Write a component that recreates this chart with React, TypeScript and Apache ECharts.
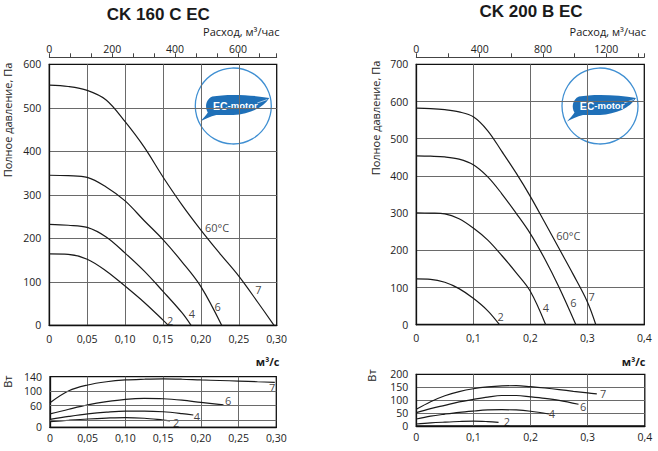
import React, { useEffect, useRef } from "react";
import * as echarts from "echarts";

// ---------- DATA ----------
const X_LABELS_L = ["0", "0,05", "0,10", "0,15", "0,20", "0,25", "0,30"];
const X_LABELS_R = ["0", "0,1", "0,2", "0,3", "0,4"];
const FLOW_LABELS_L = ["0", "200", "400", "600"];
const FLOW_LABELS_R = ["0", "400", "800", "1200"];
const W160_TICKS = [0, 20, 60, 100, 140];
const W160_GRID = [20, 60, 100];

// CK 160 C EC — pressure, Pa vs m3/s
const P160_7 = [[0, 552], [0.025, 549], [0.05, 540], [0.075, 518], [0.1, 468], [0.125, 410], [0.15, 341], [0.175, 277], [0.2, 219], [0.225, 165], [0.25, 113], [0.275, 53], [0.2965, 0]];
const P160_6 = [[0, 345], [0.025, 344], [0.05, 340], [0.075, 318], [0.1, 286], [0.125, 241], [0.15, 197], [0.175, 146], [0.2, 89], [0.2274, 0]];
const P160_4 = [[0, 232], [0.025, 230], [0.05, 225], [0.075, 203], [0.1, 166], [0.125, 125], [0.15, 78], [0.175, 29], [0.187, 0]];
const P160_2 = [[0, 164], [0.025, 163], [0.05, 152], [0.075, 125], [0.1, 90], [0.125, 53], [0.15, 12], [0.157, 0]];
// CK 160 C EC — power, W
const W160_7 = [[0, 68], [0.025, 101], [0.05, 117], [0.075, 126], [0.1, 131], [0.125, 133], [0.15, 134], [0.175, 133], [0.2, 131], [0.225, 129.5], [0.25, 128], [0.275, 126], [0.298, 124.5]];
const W160_6 = [[0, 37], [0.025, 50], [0.05, 62], [0.075, 71], [0.1, 77.5], [0.125, 80], [0.15, 79], [0.175, 75], [0.2, 69], [0.23, 62]];
const W160_4 = [[0, 22], [0.025, 30], [0.05, 37], [0.075, 42], [0.1, 45], [0.125, 45], [0.15, 43], [0.175, 38], [0.19, 34]];
const W160_2 = [[0, 15.5], [0.025, 19.5], [0.05, 23], [0.075, 25.5], [0.1, 27], [0.125, 25], [0.15, 20], [0.159, 18]];

// CK 200 B EC — pressure
const P200_7 = [[0, 582], [0.025, 581], [0.05, 578], [0.075, 572], [0.1, 559], [0.125, 522], [0.15, 466], [0.175, 408], [0.2, 345], [0.225, 276], [0.25, 206], [0.275, 136], [0.3, 62], [0.315, 0]];
const P200_6 = [[0, 454], [0.025, 453], [0.05, 451], [0.075, 445], [0.1, 430], [0.125, 398], [0.15, 352], [0.175, 300], [0.2, 245], [0.225, 178], [0.25, 102], [0.28, 0]];
const P200_4 = [[0, 301], [0.025, 300], [0.05, 298], [0.075, 285], [0.1, 260], [0.125, 228], [0.15, 186], [0.175, 140], [0.2, 90], [0.227, 0]];
const P200_2 = [[0, 123], [0.025, 122], [0.05, 114], [0.075, 97], [0.1, 71], [0.125, 38], [0.146, 0]];
// CK 200 B EC — power
const W200_7 = [[0, 64.5], [0.025, 94], [0.05, 117], [0.075, 133], [0.1, 144], [0.125, 151], [0.15, 155], [0.175, 156], [0.2, 152], [0.225, 147], [0.25, 141], [0.275, 134], [0.3, 128], [0.316, 124]];
const W200_6 = [[0, 51.6], [0.025, 67], [0.05, 80], [0.075, 93], [0.1, 103], [0.125, 112], [0.15, 118], [0.175, 118], [0.2, 113], [0.225, 107], [0.25, 99], [0.284, 84]];
const W200_4 = [[0, 27], [0.025, 38], [0.05, 46], [0.075, 53], [0.1, 58], [0.125, 62], [0.15, 63], [0.175, 62], [0.2, 57], [0.232, 46.5]];
const W200_2 = [[0, 7.7], [0.025, 12], [0.05, 15], [0.075, 17.5], [0.1, 19], [0.125, 17], [0.144, 14]];

// curve labels [text, x, y]
const P160_LABELS = [["7", 0.2757, 83], ["6", 0.2222, 43], ["4", 0.188, 26], ["2", 0.1593, 12], ["60°C", 0.2214, 224]];
const W160_LABELS = [["7", 0.2944, 109], ["6", 0.236, 74], ["4", 0.1948, 31], ["2", 0.1673, 12.7]];
const P200_LABELS = [["7", 0.3077, 75], ["6", 0.2754, 59], ["4", 0.2275, 47], ["2", 0.148, 21.5], ["60°C", 0.2667, 239]];
const W200_LABELS = [["7", 0.327, 124], ["6", 0.292, 75], ["4", 0.2375, 49], ["2", 0.1586, 19]];

// ---------- STYLE ----------
const FONT = "'Open Sans', 'Noto Sans', sans-serif";
const GRID_C = "#6a6a6a";
const FRAME_C = "#111";
const CURVE_C = "#1a1a1a";
const LEAF_PATH =
  "M -21 -9.5 C -8 -12 18 -11.5 36 -8 C 30 2 16 8 0 9 L -17 9 C -23 10.5 -29 13 -33 15.5 C -30 12 -27 9 -25.5 6.5 C -28.5 2 -28 -6.5 -21 -9.5 Z";

let registered = false;
function ensureShape() {
  if (registered) return;
  echarts.graphic.registerShape("logo", echarts.graphic.extendPath(LEAF_PATH, {}));
  registered = true;
}

const axisLabelStyle = { color: "#222", fontFamily: FONT, fontSize: 10.5 };

function bottomX(gridIndex: number, max: number, interval: number, labels: string[], margin: number) {
  return {
    type: "value",
    gridIndex,
    position: "bottom",
    min: 0,
    max,
    interval,
    axisLine: { show: true, lineStyle: { color: FRAME_C, width: 1.3 } },
    axisTick: { show: false },
    axisLabel: {
      ...axisLabelStyle,
      margin,
      showMinLabel: true,
      showMaxLabel: true,
      formatter: (v: number) => labels[Math.round(v / interval)] ?? "",
    },
    splitLine: { show: true, showMinLine: false, showMaxLine: false, lineStyle: { color: GRID_C, width: 1 } },
  };
}

function topX(gridIndex: number, max: number, interval: number, split: number, labels: string[]) {
  return {
    type: "value",
    gridIndex,
    position: "top",
    offset: 7,
    min: 0,
    max,
    interval,
    axisLine: { show: true, lineStyle: { color: "#444", width: 1 } },
    axisTick: { show: true, length: 4, lineStyle: { color: "#444" } },
    minorTick: { show: true, splitNumber: split, length: 4, lineStyle: { color: "#444" } },
    axisLabel: {
      ...axisLabelStyle,
      margin: 3,
      showMinLabel: true,
      formatter: (v: number) => labels[Math.round(v / interval)] ?? "",
    },
    splitLine: { show: false },
  };
}

function leftY(gridIndex: number, max: number, interval: number, grid: boolean, ticks?: number[]) {
  return {
    type: "value",
    gridIndex,
    min: 0,
    max,
    interval,
    axisLine: { show: true, lineStyle: { color: FRAME_C, width: 1.3 } },
    axisTick: { show: false },
    axisLabel: {
      ...axisLabelStyle,
      margin: 8,
      showMinLabel: true,
      showMaxLabel: true,
      hideOverlap: false,
      formatter: (v: number) => (ticks ? (ticks.includes(v) ? String(v) : "") : String(v)),
    },
    splitLine: { show: grid, showMinLine: false, showMaxLine: false, lineStyle: { color: GRID_C, width: 1 } },
  };
}

function curve(data: number[][], xi: number, yi: number) {
  return {
    type: "line",
    xAxisIndex: xi,
    yAxisIndex: yi,
    data,
    symbol: "none",
    showSymbol: false,
    smooth: 0.35,
    lineStyle: { color: CURVE_C, width: 1.2 },
    silent: true,
    z: 3,
  };
}

function labels(items: (string | number)[][], xi: number, yi: number) {
  return {
    type: "scatter",
    xAxisIndex: xi,
    yAxisIndex: yi,
    symbolSize: 0,
    silent: true,
    z: 4,
    data: items.map((it) => ({ name: it[0], value: [it[1], it[2]] })),
    label: {
      show: true,
      position: "inside",
      formatter: (p: any) => p.name,
      color: "#111",
      fontFamily: FONT,
      fontSize: 11,
    },
  };
}

function logo(cx: number, cy: number) {
  return {
    type: "group",
    x: cx,
    y: cy,
    z: 100,
    children: [
      { type: "circle", shape: { cx: 0, cy: 0, r: 38 }, style: { fill: "#fff", stroke: "#3f8fd2", lineWidth: 1.3 } },
      { type: "logo", x: 0, y: 0, scaleX: 1, scaleY: 1, style: { fill: "#1f70b8" } },
      { type: "line", shape: { x1: 24, y1: -3, x2: 34, y2: -6.5 }, style: { stroke: "#cfe3f5", lineWidth: 0.8 } },
      {
        type: "text",
        x: 2,
        y: -0.5,
        style: {
          text: "{a|EC}{b|-motor}",
          textAlign: "center",
          textVerticalAlign: "middle",
          fill: "#fff",
          rich: {
            a: { fontFamily: "'Liberation Sans', sans-serif", fontWeight: "bold", fontSize: 10.5, fill: "#fff" },
            b: { fontFamily: "'Liberation Sans', sans-serif", fontWeight: "bold", fontSize: 9.5, fill: "#fff" },
          },
        },
      },
    ],
  };
}

function txt(text: string, x: number, y: number, opts: any = {}) {
  return {
    type: "text",
    x,
    y,
    rotation: opts.rotation || 0,
    z: 50,
    style: {
      text,
      textAlign: opts.align || "center",
      textVerticalAlign: "middle",
      fill: "#1a1a1a",
      fontFamily: opts.font || FONT,
      fontSize: opts.size || 11,
      fontWeight: opts.weight || "normal",
    },
  };
}

export default function App() {
  const ref = useRef<HTMLDivElement>(null);
  useEffect(() => {
    ensureShape();
    const chart = echarts.init(ref.current!, null, { renderer: "svg" });
    const gridBase = { show: true, borderColor: FRAME_C, borderWidth: 1.3, backgroundColor: "transparent", containLabel: false, outerBoundsMode: "none" };
    const option: any = {
      animation: false,
      backgroundColor: "#fff",
      grid: [
        { ...gridBase, left: 49.3, top: 64.3, width: 227.4, height: 261 },
        { ...gridBase, left: 50, top: 376.7, width: 226.3, height: 50.6 },
        { ...gridBase, left: 416.3, top: 64.3, width: 228, height: 260.4 },
        { ...gridBase, left: 416.3, top: 374.3, width: 228.5, height: 51.7 },
      ],
      xAxis: [
        bottomX(0, 0.3, 0.05, X_LABELS_L, 8),
        topX(0, 723, 200, 3, FLOW_LABELS_L),
        bottomX(1, 0.3, 0.05, X_LABELS_L, 5),
        bottomX(2, 0.4, 0.1, X_LABELS_R, 8),
        topX(2, 1440, 400, 2, FLOW_LABELS_R),
        bottomX(3, 0.4, 0.1, X_LABELS_R, 5),
      ],
      yAxis: [
        leftY(0, 600, 100, true),
        leftY(1, 140, 20, false, W160_TICKS),
        leftY(2, 700, 100, true),
        leftY(3, 200, 50, true),
      ],
      series: [
        curve(P160_7, 0, 0),
        curve(P160_6, 0, 0),
        curve(P160_4, 0, 0),
        curve(P160_2, 0, 0),
        labels(P160_LABELS, 0, 0),
        {
          ...curve(W160_7, 2, 1),
          markLine: {
            silent: true,
            symbol: "none",
            label: { show: false },
            lineStyle: { color: GRID_C, width: 1, type: "solid" },
            data: W160_GRID.map((v) => ({ yAxis: v })),
          },
        },
        curve(W160_6, 2, 1),
        curve(W160_4, 2, 1),
        curve(W160_2, 2, 1),
        labels(W160_LABELS, 2, 1),
        curve(P200_7, 3, 2),
        curve(P200_6, 3, 2),
        curve(P200_4, 3, 2),
        curve(P200_2, 3, 2),
        labels(P200_LABELS, 3, 2),
        curve(W200_7, 5, 3),
        curve(W200_6, 5, 3),
        curve(W200_4, 5, 3),
        curve(W200_2, 5, 3),
        labels(W200_LABELS, 5, 3),
      ],
      graphic: [
        txt("CK 160 C EC", 158.3, 14, { font: "'Liberation Sans', sans-serif", size: 17, weight: "bold" }),
        txt("CK 200 B EC", 531, 11.5, { font: "'Liberation Sans', sans-serif", size: 17, weight: "bold" }),
        txt("Расход, м³/час", 279.5, 31, { align: "right" }),
        txt("Расход, м³/час", 646, 31, { align: "right" }),
        txt("Полное давление, Па", 7, 120, { rotation: Math.PI / 2 }),
        txt("Полное давление, Па", 375, 118, { rotation: Math.PI / 2 }),
        txt("Вт", 7, 381.7, { rotation: Math.PI / 2 }),
        txt("Вт", 371.5, 375.5, { rotation: Math.PI / 2 }),
        txt("м³/с", 279.5, 361.7, { align: "right", weight: "bold" }),
        txt("м³/с", 645.5, 361.7, { align: "right", weight: "bold" }),
        logo(233.3, 106),
        logo(600, 106),
      ],
    };
    chart.setOption(option);
    return () => chart.dispose();
  }, []);
  return (
    <div
      ref={ref}
      style={{ position: "absolute", left: 0, top: 0, width: 658, height: 451, background: "#fff" }}
    />
  );
}
